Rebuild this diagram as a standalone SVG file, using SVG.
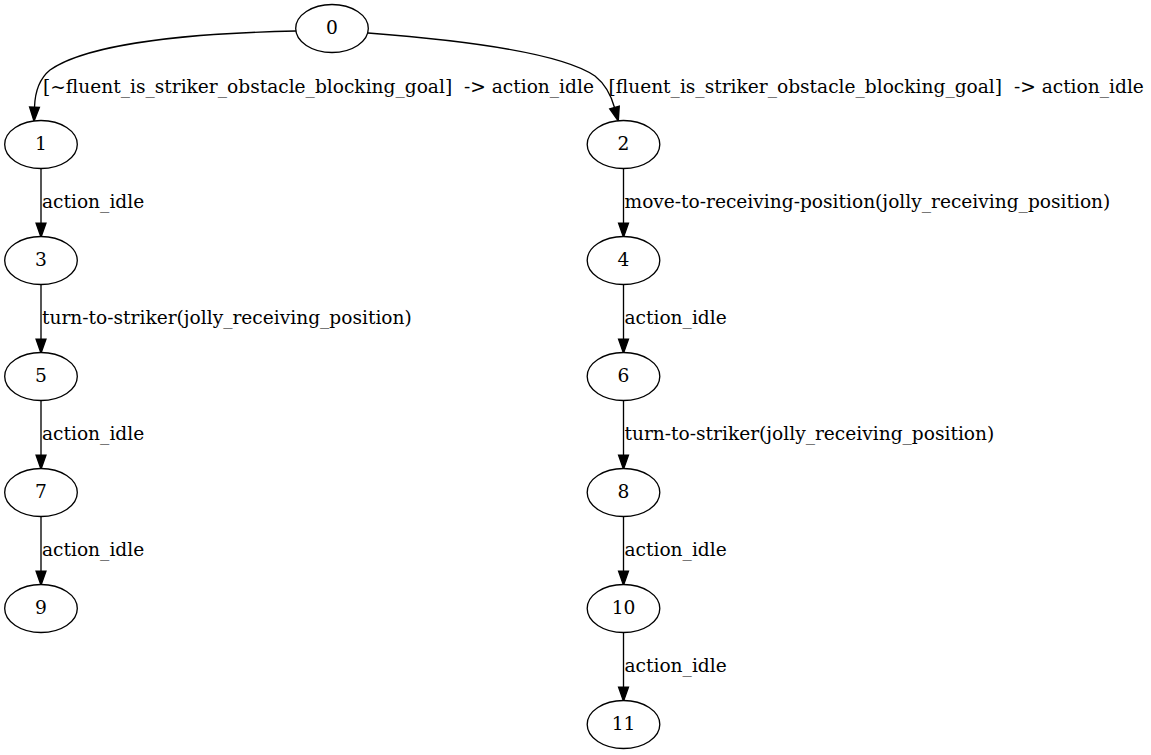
<svg xmlns="http://www.w3.org/2000/svg" width="1151" height="755" viewBox="0 0 1151 755">
<style>
  .node ellipse { fill: #ffffff; stroke: #000000; stroke-width: 1.33; }
  .node text { font-family: "DejaVu Serif", "Liberation Serif", serif; font-size: 18.67px; text-anchor: middle; fill: #000000; }
  .edge path { fill: none; stroke: #000000; stroke-width: 1.33; marker-end: url(#arr); }
  .elabel { font-family: "DejaVu Serif", "Liberation Serif", serif; font-size: 18.6px; fill: #000000; white-space: pre; }
</style>
<defs>
  <marker id="arr" markerUnits="userSpaceOnUse" markerWidth="14" markerHeight="10" viewBox="0 0 13.33 9.33" refX="0" refY="4.67" orient="auto" overflow="visible">
    <polygon points="0,0 13.33,4.67 0,9.33" fill="#000000" stroke="#000000" stroke-width="1.33"/>
  </marker>
</defs>
<rect width="1151" height="755" fill="#ffffff"/>
<g id="edges">
  <g class="edge" id="e0_1"><path d="M296,31 C200,33 90,42 50,70 C39,79 35,92 34.5,107.2"/>
    <text class="elabel" x="43" y="92.5" xml:space="preserve">[~fluent_is_striker_obstacle_blocking_goal]  -&gt; action_idle</text></g>
  <g class="edge" id="e0_2"><path d="M368,33 C460,40 560,52 595,76 C605,84 611,95 614.5,107.5"/>
    <text class="elabel" x="608.5" y="92.5" xml:space="preserve">[fluent_is_striker_obstacle_blocking_goal]  -&gt; action_idle</text></g>
  <g class="edge" id="e1_3"><path d="M41,168.5 L41,223.2"/><text class="elabel" x="42" y="208.3">action_idle</text></g>
  <g class="edge" id="e3_5"><path d="M41,284.5 L41,339.2"/><text class="elabel" x="42" y="324.3">turn-to-striker(jolly_receiving_position)</text></g>
  <g class="edge" id="e5_7"><path d="M41,400.5 L41,455.2"/><text class="elabel" x="42" y="440.3">action_idle</text></g>
  <g class="edge" id="e7_9"><path d="M41,516.5 L41,571.2"/><text class="elabel" x="42" y="556.3">action_idle</text></g>
  <g class="edge" id="e2_4"><path d="M623.5,168.5 L623.5,223.2"/><text class="elabel" x="624.5" y="208.3">move-to-receiving-position(jolly_receiving_position)</text></g>
  <g class="edge" id="e4_6"><path d="M623.5,284.5 L623.5,339.2"/><text class="elabel" x="624.5" y="324.3">action_idle</text></g>
  <g class="edge" id="e6_8"><path d="M623.5,400.5 L623.5,455.2"/><text class="elabel" x="624.5" y="440.3">turn-to-striker(jolly_receiving_position)</text></g>
  <g class="edge" id="e8_10"><path d="M623.5,516.5 L623.5,571.2"/><text class="elabel" x="624.5" y="556.3">action_idle</text></g>
  <g class="edge" id="e10_11"><path d="M623.5,632.5 L623.5,687.2"/><text class="elabel" x="624.5" y="672.3">action_idle</text></g>
</g>
<g class="node" id="n0"><ellipse cx="332" cy="28.5" rx="36.3" ry="24"/><text x="332" y="34">0</text></g>
<g class="node" id="n1"><ellipse cx="41" cy="144.5" rx="36.3" ry="24"/><text x="41" y="150">1</text></g>
<g class="node" id="n2"><ellipse cx="623.5" cy="144.5" rx="36.3" ry="24"/><text x="623.5" y="150">2</text></g>
<g class="node" id="n3"><ellipse cx="41" cy="260.5" rx="36.3" ry="24"/><text x="41" y="266">3</text></g>
<g class="node" id="n4"><ellipse cx="623.5" cy="260.5" rx="36.3" ry="24"/><text x="623.5" y="266">4</text></g>
<g class="node" id="n5"><ellipse cx="41" cy="376.5" rx="36.3" ry="24"/><text x="41" y="382">5</text></g>
<g class="node" id="n6"><ellipse cx="623.5" cy="376.5" rx="36.3" ry="24"/><text x="623.5" y="382">6</text></g>
<g class="node" id="n7"><ellipse cx="41" cy="492.5" rx="36.3" ry="24"/><text x="41" y="498">7</text></g>
<g class="node" id="n8"><ellipse cx="623.5" cy="492.5" rx="36.3" ry="24"/><text x="623.5" y="498">8</text></g>
<g class="node" id="n9"><ellipse cx="41" cy="608.5" rx="36.3" ry="24"/><text x="41" y="614">9</text></g>
<g class="node" id="n10"><ellipse cx="623.5" cy="608.5" rx="36.3" ry="24"/><text x="623.5" y="614">10</text></g>
<g class="node" id="n11"><ellipse cx="623.5" cy="724.5" rx="36.3" ry="24"/><text x="623.5" y="730">11</text></g>
</svg>
